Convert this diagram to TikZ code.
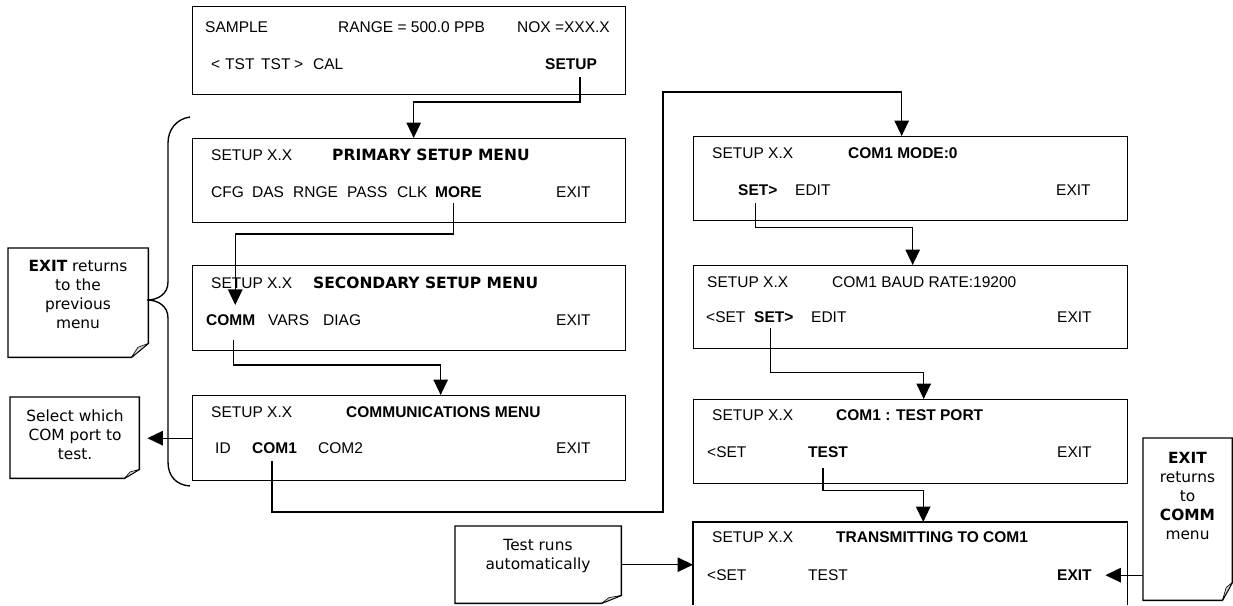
\documentclass[tikz,border=0pt]{standalone}
\usepackage{fontspec}
\setmainfont{Liberation Sans}
\newfontfamily\vfont{DejaVu Sans}
\usetikzlibrary{arrows.meta,calc}
\newcommand\foldcorner[3]{%
  \draw[notebd] (#1.north west) -- (#1.north east) -- ([yshift=#3]#1.south east) -- ([xshift=-#2]#1.south east) -- (#1.south west) -- cycle;
  \filldraw[fill=gray!35,line width=0.6pt,line join=round] ([yshift=#3]#1.south east) -- ([xshift=-#2]#1.south east) -- ([xshift=-0.62*#2,yshift=0.72*#3]#1.south east) -- cycle;}
\begin{document}
\begin{tikzpicture}[x=1pt,y=-1pt,
  lcd/.style={anchor=base west,inner sep=0pt,font=\fontsize{15.5}{18}\selectfont},
  lcdb/.style={lcd,font=\fontsize{15.5}{18}\selectfont\bfseries},
  vtit/.style={lcd,font=\vfont\fontsize{15.5}{18}\selectfont\bfseries},
  box/.style={draw,line width=1.35pt,inner sep=0pt,anchor=north west},
  hidden/.style={inner sep=0pt,anchor=north west},
  notebd/.style={line width=1.35pt,line join=miter},
  notetxt/.style={align=center,inner sep=0pt,font=\vfont\fontsize{15.4}{18.8}\selectfont},
  arr/.style={line width=1.3pt,line join=miter,-{Triangle[length=15.5pt,width=14.5pt]}}]
\useasboundingbox (0,0) rectangle (1233,605);
\fill[white] (0,0) rectangle (1233,605);

% ---------- top box
\node[box,minimum width=433pt,minimum height=88pt] (topb) at (192,6) {};
\node[lcd] (tS) at (205,32.5) {SAMPLE};
\node[lcd] (tR) at (338,32.5) {RANGE = 500.0 PPB};
\node[lcd] (tN) at (517,32.5) {NOX =XXX.X};
\node[lcd] (tA) at (211,69) {<};
\node[lcd] (tB) at (225,69) {TST};
\node[lcd] (tC) at (261,69) {TST};
\node[lcd] (tD) at (294,69) {>};
\node[lcd] (tE) at (313,69) {CAL};
\node[lcdb] (kSETUP) at (545,69) {SETUP};

% ---------- primary
\node[box,minimum width=433pt,minimum height=84pt] (prim) at (192,138) {};
\node[lcd] (p1) at (211,160.5) {SETUP X.X};
\node[vtit] (p2) at (332,160.5) {PRIMARY SETUP MENU};
\node[lcd] (p3) at (211,197.5) {CFG};
\node[lcd] (p4) at (252,197.5) {DAS};
\node[lcd] (p5) at (293,197.5) {RNGE};
\node[lcd] (p6) at (347,197.5) {PASS};
\node[lcd] (p7) at (397,197.5) {CLK};
\node[lcdb] (kMORE) at (435,197.5) {MORE};
\node[lcd] (p8) at (556,197.5) {EXIT};

% ---------- secondary
\node[box,minimum width=433pt,minimum height=85pt] (sec) at (192,265) {};
\node[lcd] (s1) at (211,288.5) {SETUP X.X};
\node[vtit] (s2) at (313,288.5) {SECONDARY SETUP MENU};
\node[lcdb] (kCOMM) at (206,325.5) {COMM};
\node[lcd] (s3) at (268,325.5) {VARS};
\node[lcd] (s4) at (323,325.5) {DIAG};
\node[lcd] (s5) at (556,325.5) {EXIT};

% ---------- communications
\node[box,minimum width=433pt,minimum height=85pt] (comm) at (192,395) {};
\node[lcd] (c1) at (211,417.5) {SETUP X.X};
\node[lcdb] (c2) at (346,417.5) {COMMUNICATIONS MENU};
\node[lcd] (c3) at (215,453.5) {ID};
\node[lcdb] (kCOM1) at (252,453.5) {COM1};
\node[lcd] (c4) at (318,453.5) {COM2};
\node[lcd] (c5) at (556,453.5) {EXIT};

% ---------- COM1 mode
\node[box,minimum width=434pt,minimum height=84pt] (mode) at (693,136) {};
\node[lcd] (m1) at (712,158.5) {SETUP X.X};
\node[lcdb] (m2) at (848,158.5) {COM1 MODE:0};
\node[lcdb] (kSET1) at (738,195.5) {SET>};
\node[lcd] (m3) at (795,195.5) {EDIT};
\node[lcd] (m4) at (1056,195.5) {EXIT};

% ---------- baud
\node[box,minimum width=434pt,minimum height=83pt] (baud) at (693,265) {};
\node[lcd] (b1) at (707,287.5) {SETUP X.X};
\node[lcd] (b2) at (832,287.5) {COM1 BAUD RATE:19200};
\node[lcd] (b3) at (706,322.5) {<SET};
\node[lcdb] (kSET2) at (754,322.5) {SET>};
\node[lcd] (b4) at (811,322.5) {EDIT};
\node[lcd] (b5) at (1057,322.5) {EXIT};

% ---------- test port
\node[box,minimum width=434pt,minimum height=84pt] (test) at (693,399) {};
\node[lcd] (e1) at (712,420.5) {SETUP X.X};
\node[lcdb] (e2) at (836,420.5) {COM1 : TEST PORT};
\node[lcd] (e3) at (707,457.5) {<SET};
\node[lcdb] (kTEST) at (808,457.5) {TEST};
\node[lcd] (e4) at (1057,457.5) {EXIT};

% ---------- transmitting (open at the bottom)
\node[hidden,minimum width=434pt,minimum height=83pt] (trans) at (693,522) {};
\draw[line width=1.35pt] (trans.south west) -- (trans.north west) -- (trans.north east) -- (trans.south east);
\node[lcd] (r1) at (712,542.5) {SETUP X.X};
\node[lcdb] (r2) at (836,542.5) {TRANSMITTING TO COM1};
\node[lcd] (r3) at (707,580.5) {<SET};
\node[lcd] (r4) at (808,580.5) {TEST};
\node[lcdb] (kEXIT) at (1057,580.5) {EXIT};

% ---------- notes
\node[hidden,minimum width=140pt,minimum height=109pt] (n1) at (8,248) {};
\foldcorner{n1}{17pt}{14pt}
\node[notetxt] (n1t) at (78,294.5) {\textbf{EXIT} returns\\to the\\previous\\menu};

\node[hidden,minimum width=129pt,minimum height=81pt] (n2) at (10,397) {};
\foldcorner{n2}{15pt}{9pt}
\node[notetxt] (n2t) at (75,435) {Select which\\COM port to\\test.};

\node[hidden,minimum width=166pt,minimum height=77pt] (n3) at (455,526) {};
\foldcorner{n3}{20pt}{8pt}
\node[notetxt] (n3t) at (538,556) {Test runs\\automatically};

\node[hidden,minimum width=89pt,minimum height=162pt] (n4) at (1143,438) {};
\foldcorner{n4}{10pt}{18pt}
\node[notetxt] (n4t) at (1187.5,496) {\textbf{EXIT}\\returns\\to\\\textbf{COMM}\\menu};

% ---------- brace
\draw[line width=1.35pt] (190,117) .. controls (176,119) and (168,130) .. (168,143) -- (168,282)
  .. controls (168,294) and (158,300) .. (147,300)
  .. controls (158,300) and (168,306) .. (168,318) -- (168,462)
  .. controls (168,476) and (176,485) .. (190,486);

% ---------- connectors
\draw[arr] ([xshift=9pt,yshift=-8pt]kSETUP.south) |- ([xshift=4.5pt,yshift=36pt]prim.north) -- ([xshift=4.5pt]prim.north);
\draw[arr] ([xshift=-5pt,yshift=-5pt]kMORE.south) -- ++(0,31) -| ([xshift=4.5pt,yshift=9.5pt]kCOMM.north);
\draw[arr] ([xshift=2.5pt,yshift=-14pt]kCOMM.south) -- ++(0,25) -| ([xshift=31.5pt]comm.north);
\draw[arr] ([xshift=-2.5pt,yshift=-7pt]kCOM1.south) |- (663,512) -- (663,92) -| ([xshift=-9pt]mode.north);
\draw[arr] ([xshift=-2.5pt,yshift=-7.5pt]kSET1.south) -- ++(0,24) -| ([xshift=2pt]baud.north);
\draw[arr] ([xshift=-3.5pt,yshift=-5.5pt]kSET2.south) -- ++(0,44) -| ([xshift=13pt]test.north);
\draw[arr] ([xshift=-5pt,yshift=-10.5pt]kTEST.south) -- ++(0,22) -| ([xshift=13pt]trans.north);
\coordinate (n2tip) at ([xshift=8pt]n2.east);
\draw[arr] (comm.west) -- (comm.west -| n2tip);
\draw[arr] (n3.east) -- (n3.east -| trans.west);
\coordinate (exitpt) at ([xshift=13.5pt]kEXIT.east);
\draw[arr] (exitpt -| n4.west) -- (exitpt);
\end{tikzpicture}
\end{document}
